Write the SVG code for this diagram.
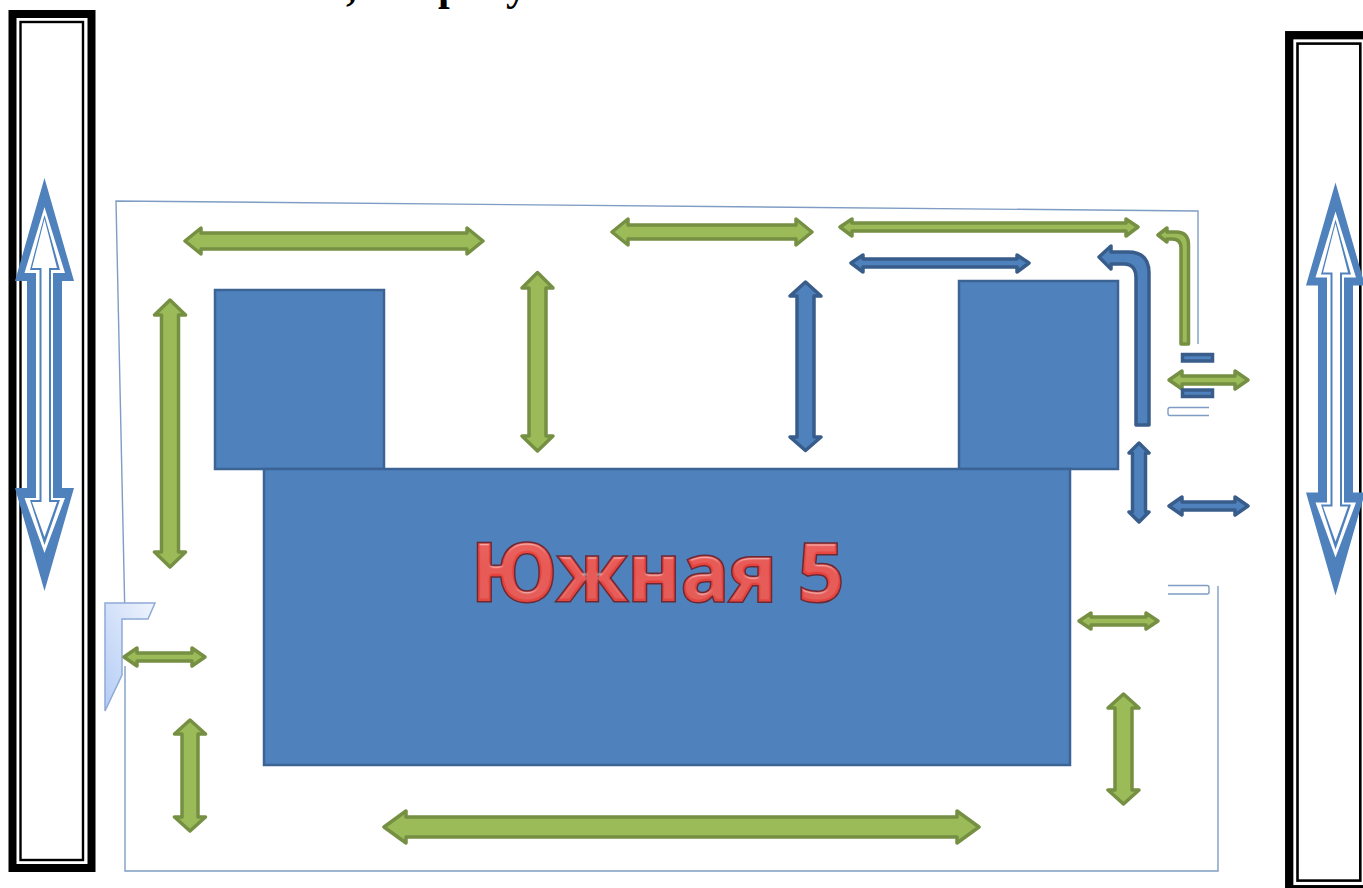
<svg xmlns="http://www.w3.org/2000/svg" width="1363" height="888" viewBox="0 0 1363 888">
<defs>
<linearGradient id="red" x1="0" y1="0" x2="0" y2="1"><stop offset="0" stop-color="#ee5750"/><stop offset="0.5" stop-color="#e6403a"/><stop offset="1" stop-color="#e04a43"/></linearGradient>
<linearGradient id="pale" x1="1" y1="0" x2="0" y2="1"><stop offset="0" stop-color="#f0f4fd"/><stop offset="1" stop-color="#b4ccf5"/></linearGradient>
<filter id="bevel" x="-5%" y="-20%" width="110%" height="140%">
<feGaussianBlur in="SourceAlpha" stdDeviation="1.4" result="b"/>
<feSpecularLighting in="b" surfaceScale="3" specularConstant=".35" specularExponent="30" lighting-color="#fff" result="s"><feDistantLight azimuth="270" elevation="50"/></feSpecularLighting>
<feComposite in="s" in2="SourceAlpha" operator="in" result="s2"/>
<feMerge><feMergeNode in="SourceGraphic"/><feMergeNode in="s2"/></feMerge>
</filter>
<style>
.g{fill:#9bbb59;stroke:#769043;stroke-width:3.500;stroke-linejoin:round}
.b{fill:#4f81bd;stroke:#385d8a;stroke-width:3.500;stroke-linejoin:round}
.m{fill:#4f81bd;stroke:#385d8a;stroke-width:3.500}
.r{fill:#4f81bd;stroke:#3b6494;stroke-width:2.500}
.t{fill:none;stroke:#7f9dc4;stroke-width:1.400}
.k{fill:none;stroke:#000}
.u{fill:#4f81bd}
.v{fill:#fff}
</style>
</defs>
<rect width="1363" height="888" fill="#fff"/>
<g id="title"><text y="0" font-family="'Liberation Serif',serif" font-weight="700" font-size="42" fill="#000"><tspan x="346">,</tspan><tspan x="438">р</tspan><tspan x="506">у</tspan></text></g>
<g id="frame-left"><rect class="k" x="12.500" y="14" width="79" height="854" stroke-width="8"/><rect class="k" x="20.500" y="22" width="62.500" height="838" stroke-width="2.400"/></g>
<g id="frame-right"><rect class="k" x="1289.200" y="35.200" width="90" height="854" stroke-width="8.300"/><rect class="k" x="1297.500" y="43.600" width="62.800" height="837" stroke-width="2.600"/></g>
<g id="outline"><polyline class="t" points="125,620 116,201 1198,211 1198,344"/><polyline class="t" points="125,666 125,871 1218,871 1218,586"/><path class="t" d="M1209,407.500H1170Q1168,407.500 1168,409.500V413.500Q1168,415.500 1170,415.500H1209"/><path class="t" d="M1168,585.500H1207Q1209,585.500 1209,587.500V592Q1209,594 1207,594H1168"/></g>
<g id="building"><rect class="r" x="215" y="290" width="169" height="179"/><rect class="r" x="959" y="281" width="159" height="188"/><rect class="r" x="264" y="469" width="806" height="296"/></g>
<g id="label"><text x="471" y="601" font-family="'Open Sans','Noto Sans',sans-serif" font-weight="700" font-size="80" textLength="373" lengthAdjust="spacingAndGlyphs" fill="url(#red)" stroke="#6b2a35" stroke-width="3" paint-order="stroke" filter="url(#bevel)">Южная 5</text></g>
<g id="corner"><polygon points="105,603 155,603 148,619 122,619 122,675 105,711" fill="url(#pale)" stroke="#8eaad6" stroke-width="1.500"/></g>
<g id="connectors">
<polygon class="g" points="185,241 201,228 201,233 467,233 467,228 483,241 467,254 467,249 201,249 201,254"/>
<polygon class="g" points="612,232 628,219 628,225 796,225 796,219 812,232 796,245 796,239 628,239 628,245"/>
<polygon class="g" points="840,227 852,219 852,223 1126,223 1126,219 1138,227 1126,236 1126,231 852,231 852,236"/>
<polygon class="b" points="851,263 863,255 863,259 1017,259 1017,255 1029,263 1017,272 1017,267 863,267 863,272"/>
<polygon class="g" points="1169,380 1182,371 1182,376 1235,376 1235,371 1248,380 1235,389 1235,384 1182,384 1182,389"/>
<polygon class="b" points="1169,506 1182,497 1182,502 1235,502 1235,497 1248,506 1235,515 1235,510 1182,510 1182,515"/>
<polygon class="g" points="1079,621 1091,613 1091,617 1146,617 1146,613 1158,621 1146,629 1146,625 1091,625 1091,629"/>
<polygon class="g" points="124,657 137,648 137,653 192,653 192,648 205,657 192,666 192,661 137,661 137,666"/>
<polygon class="g" points="384,827 406,811 406,817 957,817 957,811 979,827 957,843 957,837 406,837 406,843"/>
<polygon class="g" points="170,300 185.500,315 178.500,315 178.500,552 185.500,552 170,567 154.500,552 161.500,552 161.500,315 154.500,315"/>
<polygon class="g" points="537.500,272.500 553,288 546,288 546,436 553,436 537.500,451 522,436 529,436 529,288 522,288"/>
<polygon class="b" points="805.500,282 821,296 814,296 814,437 821,437 805.500,450.500 790,437 797,437 797,296 790,296"/>
<polygon class="b" points="1139,443 1149,453 1145.500,453 1145.500,512 1149,512 1139,522 1129,512 1132.500,512 1132.500,453 1129,453"/>
<polygon class="g" points="1123.500,694 1139,708 1132,708 1132,790 1139,790 1123.500,804 1108,790 1115,790 1115,708 1108,708"/>
<polygon class="g" points="190,720 205.500,734 198,734 198,817 205.500,817 190,831 174.500,817 182,817 182,734 174.500,734"/>
<path class="b" d="M1099,257L1111,246V252H1128Q1149,252 1149,273V425H1136V278Q1136,264 1124,264H1111V269Z"/>
<path class="g" d="M1158,235L1167,228V232H1176Q1188.500,232 1188.500,245V344H1181V248Q1181,239 1172,239H1167V242Z"/>
<rect class="m" x="1182.500" y="354.500" width="30" height="6.500"/>
<rect class="m" x="1182.500" y="390" width="30" height="6.500"/>
</g>
<g id="road-arrow-left">
<polygon class="u" points="44.500,178 74,281 62,281 62,488 74,488 44.500,591 15,488 27,488 27,281 15,281"/>
<polygon class="v" points="44.500,207 65,273 53,273 53,498 65,498 44.500,553 24.500,498 36,498 36,273 24.500,273"/>
<polygon class="u" points="44.500,215 60,270 51,270 51,500 60,500 44.500,545 30,500 39.500,500 39.500,270 30,270"/>
<polygon class="v" points="44.500,219 57,268 49,268 49,502 57,502 44.500,537 32,502 41.500,502 41.500,268 32,268"/>
</g>
<g id="road-arrow-right">
<polygon class="u" points="1335.500,182.500 1365,285.500 1353,285.500 1353,492.500 1365,492.500 1335.500,595.500 1306,492.500 1318,492.500 1318,285.500 1306,285.500"/>
<polygon class="v" points="1335.500,211.500 1356,277.500 1344,277.500 1344,502.500 1356,502.500 1335.500,557.500 1315.500,502.500 1327,502.500 1327,277.500 1315.500,277.500"/>
<polygon class="u" points="1335.500,219.500 1351,274.500 1342,274.500 1342,504.500 1351,504.500 1335.500,549.500 1321,504.500 1330.500,504.500 1330.500,274.500 1321,274.500"/>
<polygon class="v" points="1335.500,223.500 1348,272.500 1340,272.500 1340,506.500 1348,506.500 1335.500,541.500 1323,506.500 1332.500,506.500 1332.500,272.500 1323,272.500"/>
</g>
</svg>
